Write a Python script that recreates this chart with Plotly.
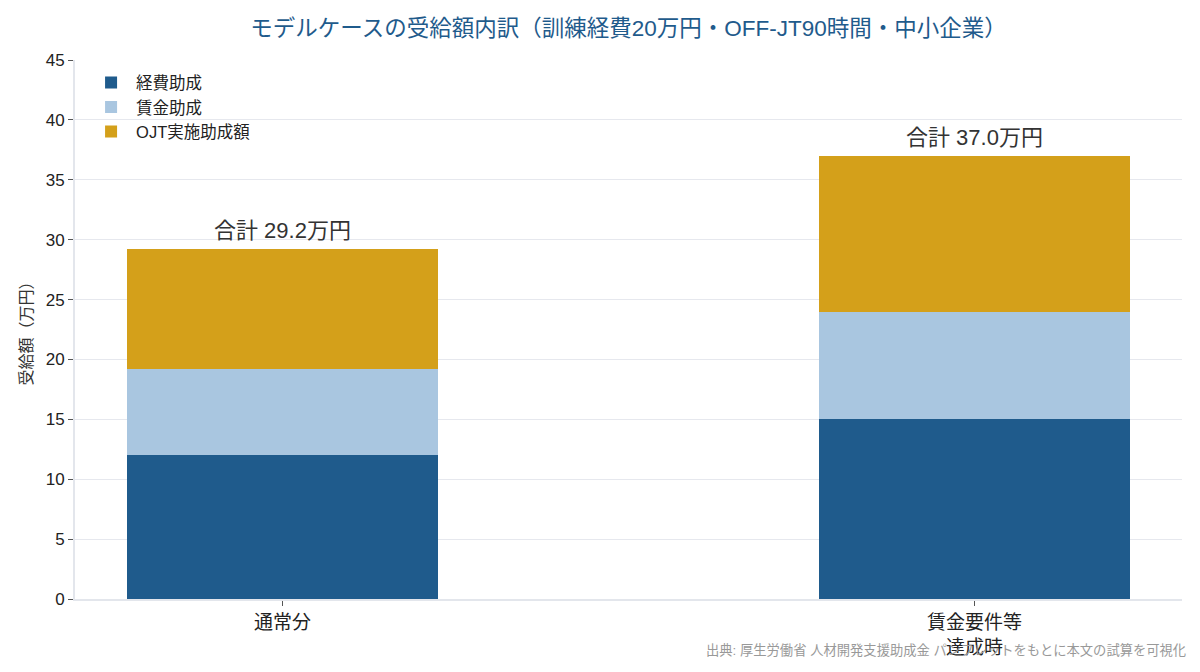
import plotly.graph_objects as go

categories = ["通常分", "賃金要件等<br>達成時"]
keihi = [12.0, 15.0]
chingin = [7.2, 9.0]
ojt = [10.0, 13.0]
totals = [29.2, 37.0]
series_names = ["経費助成", "賃金助成", "OJT実施助成額"]
colors = ["#1f5b8c", "#a9c6e0", "#d4a01a"]

FONT = "Liberation Sans, Noto Sans CJK JP, sans-serif"
fig = go.Figure()
for name, vals, c in zip(series_names, [keihi, chingin, ojt], colors):
    fig.add_trace(go.Bar(x=categories, y=vals, name=name, marker=dict(color=c, line=dict(width=0)),
                         width=0.45, hoverinfo="y+name"))

for cat, t in zip(categories, totals):
    fig.add_annotation(x=cat, y=t, text=f"合計 {t:.1f}万円", showarrow=False,
                       yanchor="bottom", yshift=4, font=dict(size=22, color="#333333", family=FONT))

fig.add_annotation(xref="paper", yref="paper", x=1.005, y=-0.078, xanchor="right", yanchor="top",
                   text="出典: 厚生労働省 人材開発支援助成金 パンフレットをもとに本文の試算を可視化",
                   showarrow=False, font=dict(size=13.3, color="#999999", family=FONT))

fig.update_layout(
    width=1200, height=672,
    barmode="stack",
    paper_bgcolor="white", plot_bgcolor="white",
    font=dict(family=FONT, color="#222222"),
    title=dict(text="モデルケースの受給額内訳（訓練経費20万円・OFF-JT90時間・中小企業）",
               xref="paper", x=0.5, xanchor="center", y=0.958, yanchor="middle",
               font=dict(size=22.5, color="#1f5b8c", family=FONT)),
    margin=dict(l=75, r=18, t=60, b=73),
    legend=dict(x=0.01, y=0.99, xanchor="left", yanchor="top", bgcolor="rgba(255,255,255,0)",
                font=dict(size=16.5, family=FONT), traceorder="normal", itemwidth=40),
    xaxis=dict(range=[-0.3, 1.3], showline=True, linecolor="#e3e6ec", linewidth=2,
               ticks="outside", ticklen=5, tickcolor="#555555",
               tickfont=dict(size=19, family=FONT, color="#222222")),
    yaxis=dict(range=[0, 45], dtick=5, showline=True, linecolor="#e3e6ec", linewidth=2,
               gridcolor="#e6e8ee", gridwidth=1, ticks="outside", ticklen=5, tickcolor="#555555",
               tickfont=dict(size=17, family=FONT, color="#222222"),
               title=dict(text="受給額（万円）", font=dict(size=16, family=FONT, color="#333333"), standoff=9),
               zeroline=False),
    bargap=0,
)

fig.write_html("out.html")
